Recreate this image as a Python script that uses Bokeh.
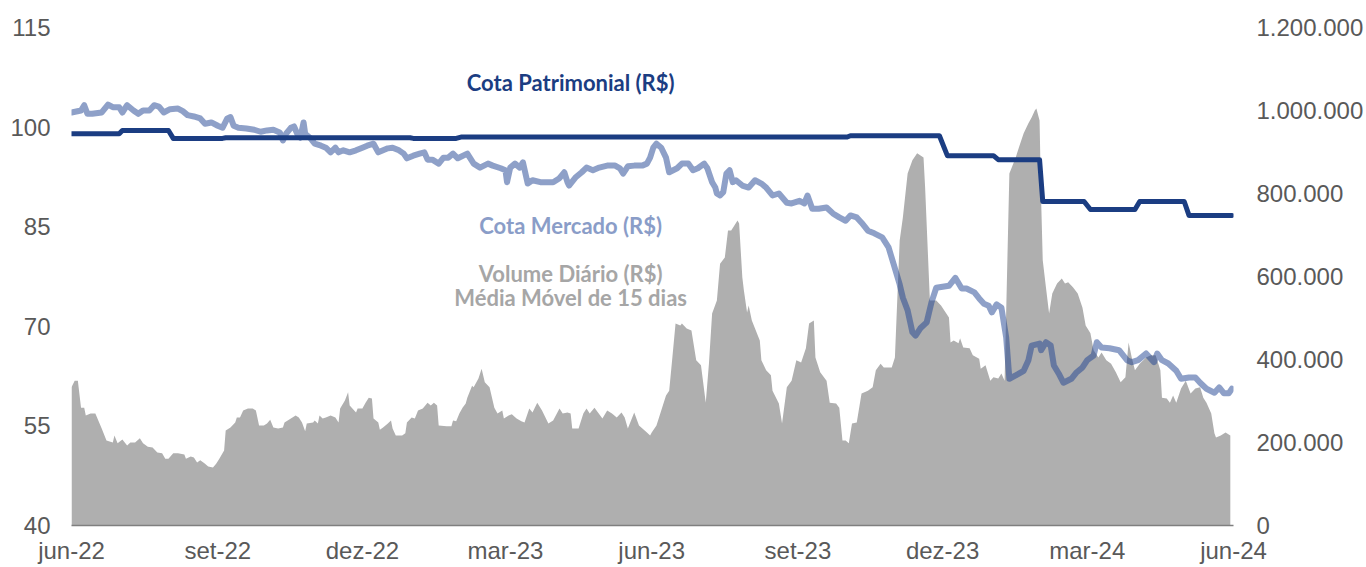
import pandas as pd
from bokeh.plotting import figure
from bokeh.models import Range1d, LinearAxis, FixedTicker, CustomJSTickFormatter, Label
from bokeh.embed import file_html
from bokeh.resources import INLINE

# ---------------- data ----------------
START = "2022-06-01"   # day 0 of the series below (days since START)

tick_months = ["2022-06-01", "2022-09-01", "2022-12-01", "2023-03-01", "2023-06-01",
               "2023-09-01", "2023-12-01", "2024-03-01", "2024-06-01"]
price_ticks = [40, 55, 70, 85, 100, 115]
vol_ticks = [0, 200000, 400000, 600000, 800000, 1000000, 1200000]

# Cota Patrimonial (R$)
pat_days = [0, 30, 32, 61, 64, 95, 97, 213, 215, 242, 245, 488, 490, 546, 551,
            580, 583, 609, 611, 637, 641, 669, 672, 700, 703, 730]
pat_vals = [99.0, 99.0, 99.5, 99.5, 98.3, 98.3, 98.4, 98.4, 98.3, 98.3, 98.5, 98.5,
            98.7, 98.7, 95.7, 95.7, 95.1, 95.1, 88.8, 88.8, 87.6, 87.6, 88.8, 88.8,
            86.7, 86.7]

# Cota Mercado (R$)
mkt_days = [0, 6, 8, 10, 13, 19, 23, 26, 30, 32, 35, 39, 42, 45, 49, 52, 55, 58, 62, 67,
            70, 73, 77, 81, 84, 88, 92, 95, 98, 100, 102, 105, 110, 115, 119, 123, 127, 131, 133, 135,
            138, 140, 142, 144, 146, 147, 150, 153, 157, 160, 163, 166, 168, 171, 175, 179, 183, 186, 190, 193,
            196, 199, 202, 206, 209, 211, 215, 219, 222, 224, 227, 231, 234, 237, 240, 243, 249, 253, 257, 262,
            265, 270, 273, 274, 276, 279, 282, 284, 287, 290, 295, 299, 303, 307, 310, 312, 313, 317, 321, 324,
            328, 332, 337, 342, 345, 347, 350, 354, 359, 362, 364, 366, 368, 371, 374, 376, 381, 384, 388, 391,
            394, 398, 400, 403, 405, 406, 408, 410, 412, 414, 416, 418, 422, 426, 430, 434, 437, 441, 445, 450,
            453, 458, 461, 463, 466, 470, 475, 479, 483, 487, 490, 494, 497, 501, 505, 510, 514, 517, 521, 523,
            526, 529, 531, 534, 538, 541, 544, 552, 556, 560, 563, 568, 571, 574, 577, 579, 582, 585, 588, 590,
            594, 599, 602, 604, 609, 610, 613, 616, 618, 621, 624, 629, 632, 636, 639, 643, 645, 648, 653, 659,
            664, 667, 671, 676, 681, 683, 686, 690, 695, 698, 703, 707, 710, 714, 719, 722, 725, 728, 730]
mkt_vals = [102.2, 102.5, 103.3, 102.0, 102.0, 102.2, 103.4, 103.0, 103.0, 102.2, 103.3, 102.5, 102.0, 102.5, 102.5, 103.3, 103.1, 102.2, 102.7, 102.8,
            102.4, 101.8, 101.6, 101.3, 100.5, 100.7, 100.2, 99.9, 101.3, 101.5, 100.2, 99.9, 99.8, 99.6, 99.3, 99.5, 99.6, 99.2, 98.0, 99.0,
            99.9, 100.1, 99.0, 98.4, 100.7, 99.0, 98.4, 97.5, 97.2, 96.9, 96.2, 96.9, 96.2, 96.5, 96.2, 96.5, 96.9, 97.2, 97.5, 96.2,
            96.5, 96.8, 96.9, 96.5, 96.0, 95.3, 95.7, 96.0, 96.2, 95.1, 95.1, 94.5, 95.4, 95.4, 96.0, 95.3, 96.0, 94.5, 93.9, 94.5,
            94.2, 93.8, 93.5, 91.7, 93.9, 94.5, 93.9, 94.7, 91.5, 92.0, 91.7, 91.7, 91.7, 92.3, 93.2, 91.7, 91.2, 92.4, 93.2, 93.9,
            93.5, 93.9, 94.2, 94.2, 93.8, 93.0, 94.1, 94.2, 94.2, 94.5, 95.4, 96.9, 97.5, 96.9, 95.4, 93.2, 93.8, 94.5, 94.5, 93.5,
            93.8, 94.5, 93.8, 91.7, 90.9, 90.0, 89.7, 90.2, 93.0, 93.5, 91.7, 92.0, 91.2, 90.9, 92.0, 91.5, 90.9, 89.7, 90.0, 88.6,
            88.5, 88.9, 88.5, 89.7, 87.7, 87.7, 87.9, 87.0, 86.4, 85.9, 86.7, 86.4, 85.6, 84.4, 84.0, 83.4, 81.9, 79.5, 76.3, 74.3,
            72.4, 69.1, 68.6, 69.7, 70.6, 73.6, 75.8, 76.1, 77.3, 75.7, 75.7, 75.1, 74.2, 73.4, 73.1, 72.1, 73.3, 72.8, 68.3, 62.1,
            62.6, 63.3, 64.9, 67.1, 67.4, 66.4, 67.6, 67.1, 64.1, 62.9, 61.5, 62.1, 63.0, 63.8, 64.9, 65.6, 67.6, 66.8, 66.7, 66.4,
            64.9, 64.6, 64.9, 65.9, 64.6, 65.9, 64.9, 64.4, 63.3, 62.1, 62.3, 62.3, 61.5, 60.6, 60.0, 60.8, 59.9, 59.9, 60.6]

# Volume Diário (R$ mil) - média móvel de 15 dias
vol_days = [0, 2, 4, 6, 8, 9, 12, 15, 19, 20, 22, 26, 27, 29, 32, 35, 37, 40, 43, 45,
            48, 51, 54, 57, 59, 61, 64, 67, 71, 72, 75, 77, 79, 81, 84, 86, 89, 91, 93, 96,
            97, 100, 103, 104, 106, 108, 111, 114, 116, 118, 121, 123, 125, 127, 130, 133, 134, 138, 141, 143,
            145, 147, 148, 152, 153, 155, 156, 158, 160, 163, 166, 168, 169, 172, 174, 175, 179, 180, 183, 185,
            187, 189, 190, 193, 194, 196, 199, 201, 202, 204, 208, 210, 211, 214, 216, 218, 221, 224, 226, 228,
            230, 231, 236, 239, 240, 242, 244, 246, 248, 249, 252, 253, 256, 258, 260, 263, 266, 268, 271, 272,
            275, 277, 280, 283, 285, 288, 290, 293, 296, 300, 303, 307, 309, 312, 314, 315, 319, 322, 324, 326,
            329, 334, 337, 340, 343, 346, 348, 350, 352, 354, 357, 362, 364, 365, 368, 371, 374, 376, 378, 380,
            383, 384, 387, 390, 393, 396, 399, 401, 403, 406, 408, 411, 413, 415, 417, 419, 420, 422, 423, 425,
            426, 428, 433, 434, 437, 440, 441, 445, 447, 450, 453, 456, 459, 462, 464, 467, 468, 471, 475, 477,
            481, 483, 485, 487, 489, 491, 494, 497, 501, 504, 506, 509, 511, 516, 518, 521, 523, 526, 529, 532,
            536, 537, 540, 544, 547, 552, 553, 555, 558, 559, 561, 565, 567, 571, 572, 575, 578, 580, 583, 585,
            587, 590, 594, 596, 599, 602, 604, 606, 607, 609, 610, 611, 613, 615, 617, 620, 623, 625, 627, 630,
            633, 636, 638, 641, 643, 646, 648, 651, 654, 657, 660, 663, 665, 667, 669, 672, 676, 679, 682, 685,
            686, 689, 691, 693, 695, 698, 701, 704, 707, 710, 712, 714, 717, 719, 720, 723, 726, 729]
vol_mil = [333, 349, 349, 284, 284, 265, 270, 270, 234, 224, 205, 200, 217, 198, 207, 193, 200, 200, 210, 198,
           190, 188, 176, 174, 161, 161, 174, 174, 171, 161, 166, 164, 152, 157, 149, 142, 140, 149, 161, 181,
           229, 236, 248, 260, 260, 277, 282, 282, 277, 241, 241, 246, 255, 236, 234, 236, 248, 258, 265, 260,
           248, 227, 246, 248, 253, 246, 265, 258, 260, 265, 260, 248, 282, 301, 321, 289, 272, 282, 282, 296,
           308, 306, 258, 248, 231, 236, 246, 253, 234, 217, 217, 222, 248, 260, 258, 277, 282, 296, 289, 296,
           289, 241, 239, 239, 253, 251, 270, 284, 294, 308, 337, 333, 354, 378, 345, 333, 284, 270, 277, 258,
           265, 268, 258, 251, 248, 282, 272, 296, 277, 246, 253, 282, 270, 272, 270, 234, 234, 270, 282, 270,
           284, 258, 277, 270, 260, 272, 260, 234, 253, 272, 241, 224, 217, 224, 241, 277, 313, 325, 405, 487,
           482, 487, 475, 470, 398, 386, 296, 390, 511, 542, 631, 646, 711, 711, 723, 735, 728, 598, 566, 513,
           530, 494, 446, 398, 374, 362, 325, 294, 246, 333, 349, 398, 393, 427, 487, 494, 405, 369, 349, 296,
           294, 284, 205, 205, 198, 246, 248, 318, 325, 333, 374, 390, 381, 381, 405, 687, 742, 848, 880, 897,
           887, 815, 542, 542, 530, 501, 441, 446, 439, 451, 429, 427, 410, 402, 378, 386, 349, 357, 354, 366,
           349, 848, 887, 911, 945, 969, 983, 1000, 1005, 976, 783, 639, 574, 511, 559, 583, 595, 583, 586, 574,
           559, 525, 482, 463, 422, 405, 417, 398, 390, 369, 345, 357, 441, 405, 374, 390, 405, 410, 410, 374,
           308, 306, 296, 313, 296, 330, 349, 318, 330, 333, 308, 296, 270, 222, 212, 217, 224, 217]


def to_dates(days):
    return pd.Timestamp(START) + pd.to_timedelta(days, unit="D")


def ms(d):
    return pd.Timestamp(d).value / 1e6


pat_x = to_dates(pat_days)
mkt_x = to_dates(mkt_days)
vol_x = to_dates(vol_days)
vol_vals = [v * 1000 for v in vol_mil]

# ---------------- figure ----------------
TICK_FONT = "Liberation Sans"
TICK_COLOR = "#595959"
LABEL_FONT = "Lato"

p = figure(width=1366, height=567, x_axis_type="datetime",
           output_backend="svg", toolbar_location=None,
           x_range=Range1d(pd.Timestamp(tick_months[0]), pd.Timestamp(tick_months[-1])),
           y_range=Range1d(price_ticks[0], price_ticks[-1]),
           min_border_left=71, min_border_right=131, min_border_top=27, min_border_bottom=42)
p.extra_y_ranges = {"vol": Range1d(vol_ticks[0], vol_ticks[-1])}

p.outline_line_color = None
p.xgrid.visible = False
p.ygrid.visible = False
p.background_fill_color = "white"
p.border_fill_color = "white"

p.varea(x=vol_x, y1=0, y2=vol_vals, y_range_name="vol", fill_color="#afafaf")
p.line(mkt_x, mkt_vals, line_width=6, line_color="#1e4191", line_alpha=0.5,
       line_join="round", line_cap="round")
p.line(pat_x, pat_vals, line_width=5, line_color="#1b3d82",
       line_join="round", line_cap="round")

# x axis
month_names = ["jan", "fev", "mar", "abr", "mai", "jun", "jul", "ago", "set", "out", "nov", "dez"]
p.xaxis.ticker = FixedTicker(ticks=[ms(d) for d in tick_months])
p.xaxis.formatter = CustomJSTickFormatter(args=dict(names=month_names), code="""
    const d = new Date(tick);
    return names[d.getUTCMonth()] + "-" + String(d.getUTCFullYear()).slice(2);
""")
p.xaxis.axis_line_color = "#7f7f7f"
p.xaxis.axis_line_width = 1.5
p.xaxis.major_label_standoff = 11

# left axis
p.yaxis.ticker = FixedTicker(ticks=price_ticks)
p.yaxis.axis_line_color = None
p.yaxis.major_label_standoff = 21

# right axis
vol_axis = LinearAxis(y_range_name="vol", ticker=FixedTicker(ticks=vol_ticks),
                      formatter=CustomJSTickFormatter(code="""
    return Math.round(tick).toString().replace(/\\B(?=(\\d{3})+(?!\\d))/g, ".");
"""))
vol_axis.axis_line_color = None
vol_axis.major_label_standoff = 23
p.add_layout(vol_axis, "right")

for ax in p.axis:
    ax.major_tick_line_color = None
    ax.minor_tick_line_color = None
    ax.major_tick_out = 0
    ax.minor_tick_out = 0
    ax.major_label_text_font = TICK_FONT
    ax.major_label_text_font_size = "24px"
    ax.major_label_text_color = TICK_COLOR

# series labels
lx = ms("2023-04-11")
for text, y, color in [("Cota Patrimonial (R$)", 106.7, "#1b3d82"),
                       ("Cota Mercado (R$)", 85.2, "#8a9dc8"),
                       ("Volume Diário (R$)", 77.95, "#a6a6a6"),
                       ("Média Móvel de 15 dias", 74.3, "#a6a6a6")]:
    p.add_layout(Label(x=lx, y=y, text=text, text_font=LABEL_FONT, text_font_style="bold",
                       text_font_size="22px", text_color=color,
                       text_align="center", text_baseline="middle"))

open("out.html", "w").write(file_html(p, INLINE))
